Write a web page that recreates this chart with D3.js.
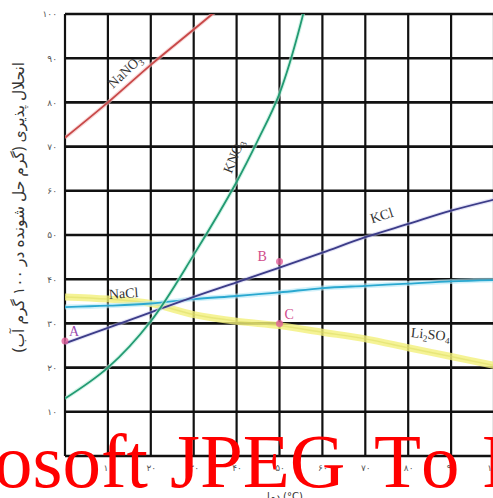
<!DOCTYPE html>
<html><head><meta charset="utf-8">
<script src="https://cdn.jsdelivr.net/npm/d3@7"></script>
<style>html,body{margin:0;padding:0;background:#fff;overflow:hidden}svg{display:block}</style>
</head><body>
<svg id="c" width="493" height="498"></svg>
<script>
// ---- data ----
const temps = [0,10,20,30,40,50,60,70,80,90,100];
const nano3Temps = [0,10,20,30,40];
const nano3 = [72,80,88.5,96.5,104.5];
const kno3Temps = [0,10,20,30,40,45,50,55,60];
const kno3 = [13,20,30.5,45.5,62,71.5,82,98,120];
const kcl = [25.5,29,32.5,36,39.3,42.6,46,49.5,52.5,55.5,58];
const nacl = [33.7,34,34.5,35.5,36.2,37,38,38.5,39,39.5,39.8];
const li2so4 = [36,35.5,34.5,32,30.5,29.5,28,26.5,24.5,22.5,20.5];
const points = [{name:"A",t:0,v:26},{name:"B",t:50,v:44},{name:"C",t:50,v:30}];
const yTickValues = [10,20,30,40,50,60,70,80,90,100];
const yTickLabels = ["۱۰","۲۰","۳۰","۴۰","۵۰","۶۰","۷۰","۸۰","۹۰","۱۰۰"];
const xTickValues = [10,20,30,40,50,60,70,80,90,100];
const xTickLabels = ["۱۰","۲۰","۳۰","۴۰","۵۰","۶۰","۷۰","۸۰","۹۰","۱۰۰"];
const yTitle = "انحلال پذیری (گرم حل شونده در ۱۰۰ گرم آب)";
const xTitle = "دما (°C)";
const watermarkWords = ["osoft","JPEG","To","PDF"];

const svg = d3.select("#c");
const x = d3.scaleLinear().domain([0,100]).range([65,494]);
const y = d3.scaleLinear().domain([0,100]).range([456,14]);

svg.append("defs").append("clipPath").attr("id","pc")
  .append("rect").attr("x",x(0)).attr("y",y(100)).attr("width",x(100)-x(0)).attr("height",y(0)-y(100));

// grid
const grid = svg.append("g");
grid.selectAll("line.h").data(d3.range(0,101,10)).join("line")
  .attr("x1",x(0)).attr("x2",x(100)).attr("y1",d=>y(d)).attr("y2",d=>y(d))
  .attr("stroke","#111").attr("stroke-width",2.6);
grid.selectAll("line.v").data(d3.range(0,101,10)).join("line")
  .attr("y1",y(0)).attr("y2",y(100)).attr("x1",d=>x(d)).attr("x2",d=>x(d))
  .attr("stroke","#111").attr("stroke-width",2.2);

// tick labels
const yAxis = d3.axisLeft(y).tickValues(yTickValues).tickSize(0).tickPadding(8)
  .tickFormat((d,i)=>yTickLabels[i]);
const ya = svg.append("g").attr("transform",`translate(${x(0)},0)`).call(yAxis);
ya.select(".domain").remove();
ya.selectAll("text").attr("font-family","DejaVu Sans").attr("font-size",9).attr("fill","#555");
const xAxis = d3.axisBottom(x).tickValues(xTickValues).tickSize(0).tickPadding(9)
  .tickFormat((d,i)=>xTickLabels[i]);
const xa = svg.append("g").attr("transform",`translate(0,${y(0)})`).call(xAxis);
xa.select(".domain").remove();
xa.selectAll("text").attr("font-family","DejaVu Sans").attr("font-size",9).attr("fill","#555");

// titles
svg.append("text").attr("transform","translate(24,207) rotate(-90)")
  .attr("text-anchor","middle").attr("font-family","Noto Sans, DejaVu Sans").attr("font-size",15.5)
  .attr("fill","#333").attr("direction","rtl").text(yTitle);
svg.append("text").attr("x",285).attr("y",500).attr("text-anchor","middle")
  .attr("font-family","DejaVu Sans").attr("font-size",10).attr("fill","#333").text(xTitle);

// curves
const plot = svg.append("g").attr("clip-path","url(#pc)");
const line = d3.line().x(d=>x(d[0])).y(d=>y(d[1])).curve(d3.curveCatmullRom.alpha(0.5));
function draw(ts, vs, color, w, op){
  plot.append("path").datum(ts.map((t,i)=>[t,vs[i]])).attr("d",line)
    .attr("fill","none").attr("stroke",color).attr("stroke-width",w).attr("stroke-opacity",op);
}
draw(temps, li2so4, "#f2f07a", 7, 0.8);
draw(temps, li2so4, "#dcdc60", 1.5, 0.5);
draw(temps, nacl, "#b4e8f6", 5, 0.6);
draw(temps, nacl, "#2aa8d0", 1.8, 1);
draw(temps, kcl, "#c8c8f0", 4, 0.5);
draw(temps, kcl, "#3c3c88", 1.8, 1);
draw(nano3Temps, nano3, "#f4c0c0", 4, 0.6);
draw(nano3Temps, nano3, "#c84848", 1.8, 1);
draw(kno3Temps, kno3, "#b8ecd8", 4, 0.6);
draw(kno3Temps, kno3, "#229a72", 1.8, 1);

// points
svg.selectAll("circle.p").data(points).join("circle")
  .attr("cx",d=>x(d.t)).attr("cy",d=>y(d.v)).attr("r",3.5).attr("fill","#e2609a").attr("opacity",0.8);
const lab = svg.append("g").attr("font-family","Liberation Serif").attr("font-size",14).attr("fill","#d04c8c");
lab.append("text").attr("x",x(points[0].t)+4).attr("y",y(points[0].v)-5).text(points[0].name).attr("fill","#9a4ab0");
lab.append("text").attr("x",x(points[1].t)-22).attr("y",y(points[1].v)-1).text(points[1].name);
lab.append("text").attr("x",x(points[2].t)+5).attr("y",y(points[2].v)-4).text(points[2].name);

// series labels
const sl = svg.append("g").attr("font-family","Liberation Serif").attr("font-size",14).attr("fill","#333");
function label(xp, yp, rot, base, sub1, rest, sub2){
  const t = sl.append("text").attr("transform",`translate(${xp},${yp}) rotate(${rot})`).attr("text-anchor","middle");
  t.append("tspan").text(base);
  if(sub1){ t.append("tspan").attr("font-size",9).attr("dy",3).text(sub1); }
  if(rest){ t.append("tspan").attr("dy",sub1?-3:0).text(rest); }
  if(sub2){ t.append("tspan").attr("font-size",9).attr("dy",3).text(sub2); }
}
label(128,75,-43,"NaNO","3");
label(238,158,-68,"KNO","3");
label(383,220,-18,"KCl");
label(124,298,-4,"NaCl");
label(430,339,6,"Li","2","SO","4");

// watermark (word starts)
const wmX = [-6,170,374,482];
svg.append("g").selectAll("text").data(watermarkWords).join("text")
  .attr("x",(d,i)=>wmX[i]).attr("y",487).attr("font-family","Liberation Serif")
  .attr("font-size",77).attr("fill","#ff0000").style("font-kerning","none").text(d=>d);
</script>
</body></html>
